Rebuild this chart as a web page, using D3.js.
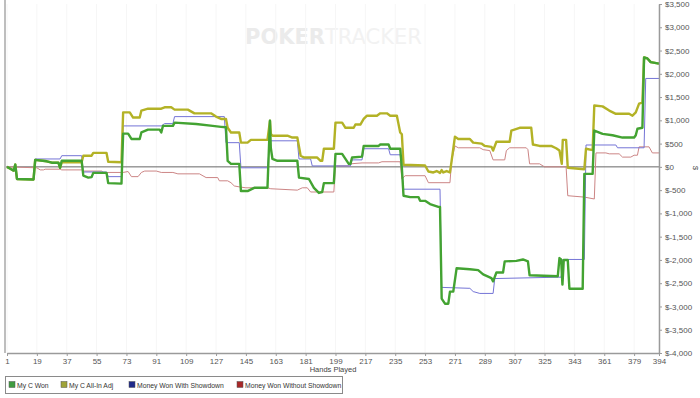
<!DOCTYPE html>
<html><head><meta charset="utf-8">
<script src="https://cdnjs.cloudflare.com/ajax/libs/d3/7.8.5/d3.min.js"></script>
<style>
html,body{margin:0;padding:0;background:#fff;}
svg{display:block;font-family:"Liberation Sans",Arial,sans-serif;}
</style></head><body>
<svg id="chart" width="700" height="398"></svg>
<script>
// ---- data ----
const xTicks = [1,19,37,55,73,91,109,127,145,163,181,199,217,235,253,271,289,307,325,343,361,379,394];
const yTicks = [-4000,-3500,-3000,-2500,-2000,-1500,-1000,-500,0,500,1000,1500,2000,2500,3000,3500];
const seriesNames = ["My C Won","My C All-In Adj","Money Won With Showdown","Money Won Without Showdown"];

const myCWon = [[1,0],[3,-40],[5,-80],[6,50],[7,-260],[17,-270],[18,150],[25,120],[28,90],[32,90],[33,-20],[34,130],[46,130],[47,-190],[50,-230],[52,-220],[53,-130],[61,-130],[62,-350],[70,-360],[71,715],[74,715],[76,600],[81,600],[82,740],[86,800],[93,800],[94,740],[95,880],[101,880],[102,950],[115,920],[125,880],[130,860],[133,850],[134,130],[136,65],[141,65],[142,-520],[146,-520],[150,-450],[158,-450],[159.5,990],[160,410],[161,170],[164,130],[176,130],[177,-230],[183,-260],[186,-450],[189,-560],[191,-540],[192,-350],[198,-350],[199,280],[203,280],[205,170],[207,65],[208,65],[209,200],[215,220],[216,450],[225,450],[226,480],[231,480],[232,390],[238,390],[239,-20],[240,-620],[244,-650],[249,-650],[250,-730],[253,-730],[256,-800],[261,-860],[262,-860],[263,-2830],[265,-2940],[267,-2940],[268,-2680],[270,-2680],[272,-2180],[280,-2200],[285,-2220],[288,-2310],[293,-2390],[294,-2460],[296,-2270],[300,-2270],[301,-2030],[308,-2020],[312,-1990],[315,-2030],[316,-2330],[333,-2350],[334,-1960],[335,-1990],[335.8,-2530],[336.6,-2000],[339,-2000],[340,-2620],[348,-2620],[349,-150],[354,-150],[355,780],[360,710],[366,680],[372,630],[379,630],[380,680],[381,820],[384,840],[385,2350],[387,2330],[389,2250],[394,2220]];

const myCAllIn = [[1,0],[3,-40],[5,-80],[6,50],[7,-260],[17,-270],[18,150],[25,120],[28,90],[32,90],[33,-20],[34,100],[46,100],[47,240],[52,240],[53,300],[61,300],[62,110],[70,100],[71,1170],[75,1170],[77,1060],[81,1060],[82,1210],[86,1250],[94,1250],[96,1280],[100,1280],[102,1230],[110,1230],[114,1150],[124,1150],[127,1080],[130,1030],[133,1030],[134,840],[136,740],[141,740],[142,520],[146,520],[148,580],[158,580],[159.5,990],[160,710],[161,670],[170,670],[173,630],[176,630],[178,240],[180,200],[188,200],[190,130],[191,130],[192,390],[198,390],[199,950],[203,950],[205,840],[210,840],[211,910],[214,910],[216,1030],[218,1100],[224,1100],[226,1150],[230,1150],[232,1100],[236,1100],[238,740],[239,700],[240,45],[253,30],[255,-100],[258,-120],[260,-90],[262,-130],[263,-70],[264,-120],[266,-90],[268,-120],[269,130],[271,650],[273,600],[280,600],[282,520],[287,500],[289,450],[293,430],[294,350],[296,540],[304,540],[305,780],[310,840],[317,840],[318,480],[322,450],[329,450],[332,400],[334,350],[335.4,65],[336,580],[338,580],[339,-20],[349,-50],[350,390],[354,360],[355,1320],[360,1300],[364,1210],[368,1140],[376,1140],[378,1100],[380,1170],[382,1360],[384,1380],[385,2350],[387,2330],[389,2250],[394,2220]];

const withShowdown = [[1,0],[3,-40],[5,-80],[6,50],[7,-260],[17,-270],[18,170],[33,170],[34,240],[46,240],[47,-110],[61,-110],[62,-210],[70,-210],[71,880],[94,880],[96,930],[101,930],[102,1080],[132,1080],[133,520],[141,520],[142,-20],[158,-20],[159.5,560],[176,560],[177,170],[184,170],[185,20],[208,20],[209,150],[215,150],[216,390],[231,390],[232,260],[238,260],[239,-20],[240,-480],[262,-480],[263,-2590],[280,-2610],[282,-2680],[286,-2720],[294,-2720],[295,-2400],[335,-2370],[336,-1990],[349,-1990],[350,470],[368,470],[369,410],[385,410],[386,1900],[394,1900]];

const withoutShowdown = [[1,0],[19,-20],[21,-65],[23,-65],[24,-50],[33,-50],[34,-65],[46,-65],[47,-90],[58,-90],[59,-120],[71,-120],[74,-100],[76,-210],[80,-210],[82,-120],[84,-90],[91,-90],[94,-120],[101,-120],[104,-150],[117,-150],[121,-230],[128,-230],[129,-300],[134,-300],[136,-340],[138,-410],[141,-430],[145,-450],[158,-450],[160,-470],[176,-500],[179,-450],[182,-450],[184,-540],[198,-540],[199,20],[207,20],[208,65],[215,85],[225,85],[227,110],[238,110],[239,-260],[241,-190],[253,-190],[255,-340],[268,-340],[269,130],[271,450],[273,410],[286,410],[288,370],[292,350],[294,150],[301,150],[302,350],[304,410],[314,410],[315,370],[316,65],[322,65],[325,0],[338,0],[339,-620],[349,-650],[355,-690],[356,300],[362,300],[364,280],[370,280],[372,210],[377,210],[379,250],[381,250],[382,430],[388,430],[390,300],[394,300]];

const seriesData = [myCWon, myCAllIn, withShowdown, withoutShowdown];
const lineColors = ["#43a332","#b3b226","#7474d6","#cc8585"];
const lineWidths = [2.4,2.4,1,1];
const legendColors = ["#3f9c3f","#9fa338","#1f2a8a","#a82828"];

// ---- drawing ----
const svg = d3.select("#chart");
const x = d3.scaleLinear().domain([1,394]).range([7,659]);
const y = d3.scaleLinear().domain([-4000,3500]).range([353,4]);

// watermark
const wm = svg.append("text").attr("x",245).attr("y",44)
  .attr("font-size",21).attr("font-weight","bold").attr("font-family","'DejaVu Sans',sans-serif");
wm.append("tspan").attr("fill","#ebebeb").text("POKER");
wm.append("tspan").attr("fill","#f2f2f2").attr("font-weight","normal").text("TRACKER");

// faint gridlines
svg.append("g").selectAll("line").data(xTicks).join("line")
  .attr("x1",d=>x(d)).attr("x2",d=>x(d)).attr("y1",y(3500)).attr("y2",y(-4000))
  .attr("stroke","#f6f6f6");

// zero line
svg.append("line").attr("x1",x(1)-1).attr("x2",x(394)).attr("y1",y(0)).attr("y2",y(0))
  .attr("stroke","#666").attr("stroke-width",1);

// left frame line
svg.append("line").attr("x1",5).attr("x2",5).attr("y1",0).attr("y2",y(-4000))
  .attr("stroke","#a8a8a8").attr("stroke-width",1.5);

// lines (draw in reverse so green is on top)
const line = d3.line().x(d=>x(d[0])).y(d=>y(d[1]));
for (let i = seriesData.length-1; i>=0; i--) {
  svg.append("path").datum(seriesData[i]).attr("d",line)
    .attr("fill","none").attr("stroke",lineColors[i]).attr("stroke-width",lineWidths[i])
    .attr("stroke-linejoin","round");
}

// axes
const fmt = v => v<0 ? "$-"+d3.format(",")(-v) : "$"+d3.format(",")(v);
const yAxis = svg.append("g").attr("transform",`translate(${x(394)},0)`)
  .call(d3.axisRight(y).tickValues(yTicks).tickFormat(fmt).tickSize(3).tickSizeOuter(0));
yAxis.select(".domain").attr("stroke","#9a9a9a").attr("stroke-width",1.5);
yAxis.selectAll(".tick line").attr("stroke","#9a9a9a");
yAxis.selectAll(".tick text").attr("fill","#555").attr("font-size",8).attr("x",6)
  .attr("font-family","'Liberation Sans',Arial,sans-serif");

const xAxis = svg.append("g").attr("transform",`translate(0,${y(-4000)})`)
  .call(d3.axisBottom(x).tickValues(xTicks).tickFormat(d=>d).tickSize(3).tickSizeOuter(0));
xAxis.select(".domain").attr("stroke","#9a9a9a").attr("stroke-width",1.5);
xAxis.selectAll(".tick line").attr("stroke","#9a9a9a");
xAxis.selectAll(".tick text").attr("fill","#555").attr("font-size",8).attr("y",5)
  .attr("font-family","'Liberation Sans',Arial,sans-serif");

// axis titles
svg.append("text").attr("x",333).attr("y",372).attr("text-anchor","middle")
  .attr("font-size",7.5).attr("fill","#444").text("Hands Played");
svg.append("text").attr("transform","translate(693,168) rotate(90)").attr("text-anchor","middle")
  .attr("font-size",7.5).attr("fill","#444").text("$");

// legend
svg.append("rect").attr("x",5.5).attr("y",376.5).attr("width",337).attr("height",17)
  .attr("fill","#fff").attr("stroke","#8a8a8a");
const legX = [9,61,129,237];
const lg = svg.append("g").selectAll("g").data(seriesNames).join("g")
  .attr("transform",(d,i)=>`translate(${legX[i]},381)`);
lg.append("rect").attr("width",6).attr("height",6).attr("y",0.5)
  .attr("fill",(d,i)=>legendColors[i]).attr("stroke","#555").attr("stroke-width",0.5);
lg.append("text").attr("x",8).attr("y",6.5).attr("font-size",6.8).attr("fill","#333").text(d=>d);
</script>
</body></html>
